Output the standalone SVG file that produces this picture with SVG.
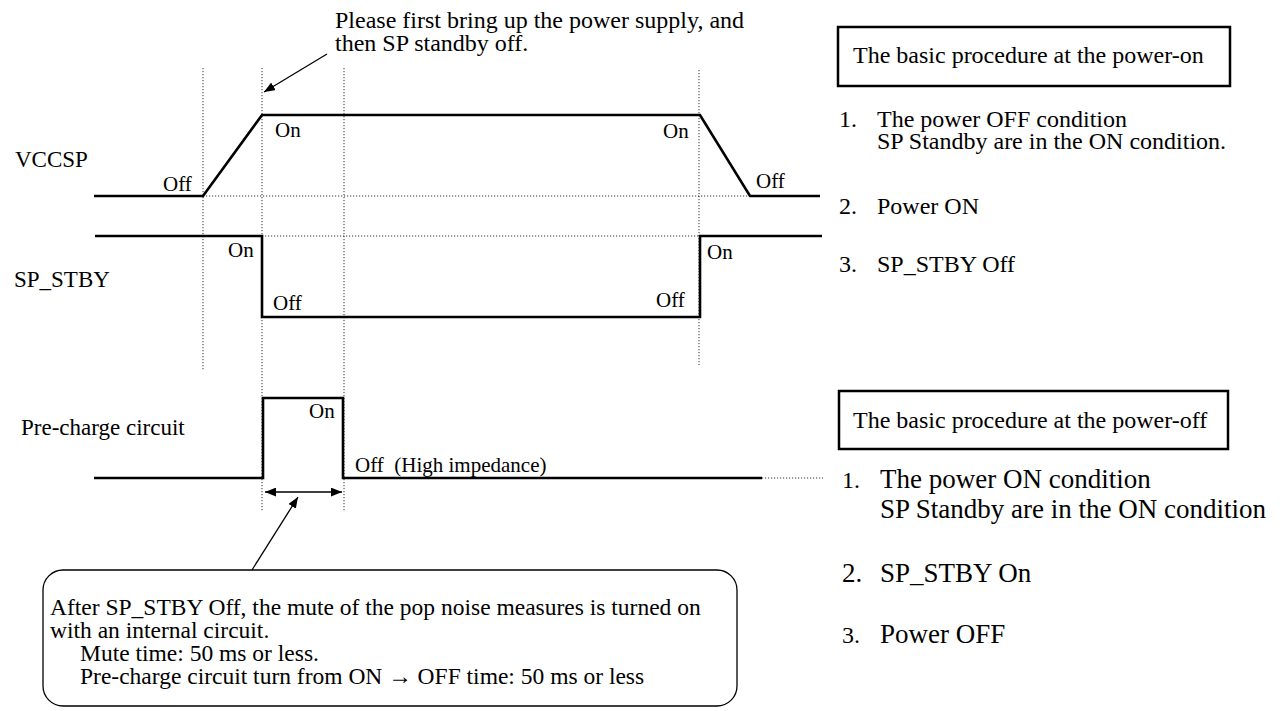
<svg xmlns="http://www.w3.org/2000/svg" width="1282" height="711" viewBox="0 0 1282 711">
<style>
text{font-family:"Liberation Serif","Times New Roman",serif;fill:#000}
.lab{font-size:23px}
.sm{font-size:21px}
.t24{font-size:24px}
.t27{font-size:27px}
.co{font-size:23.5px}
.sig{fill:none;stroke:#000;stroke-width:2.6;stroke-linejoin:miter}
.dot{fill:none;stroke:#333;stroke-width:1;stroke-dasharray:1.2 1.8}
.ln{fill:none;stroke:#000;stroke-width:1.3}
.box{fill:#fff;stroke:#000;stroke-width:2.5}
</style>
<defs>
<marker id="ah" viewBox="0 0 10 8" refX="10" refY="4" markerWidth="11" markerHeight="9" markerUnits="userSpaceOnUse" orient="auto-start-reverse">
<path d="M0,0 L10,4 L0,8 z" fill="#000"/>
</marker>
</defs>
<rect width="1282" height="711" fill="#fff"/>

<g id="grid">
<line class="dot" x1="203" y1="68" x2="203" y2="370"/>
<line class="dot" x1="262" y1="68" x2="262" y2="512"/>
<line class="dot" x1="344" y1="68" x2="344" y2="512"/>
<line class="dot" x1="699" y1="70" x2="699" y2="365"/>
<line class="dot" x1="203" y1="196" x2="750" y2="196"/>
<line class="dot" x1="262" y1="236" x2="700" y2="236"/>
<line class="dot" x1="762" y1="478" x2="823" y2="478"/>
</g>

<g id="vccsp">
<text class="lab" x="15" y="167">VCCSP</text>
<polyline class="sig" points="94,196 203,196 262,115 700,115 750,196 820,196"/>
<text class="sm" x="163" y="191">Off</text>
<text class="sm" x="275" y="137">On</text>
<text class="sm" x="663" y="138">On</text>
<text class="sm" x="756" y="188">Off</text>
</g>

<g id="sp_stby">
<text class="lab" x="14" y="287">SP_STBY</text>
<polyline class="sig" points="95,236 262,236 262,317 700,317 700,236 822,236"/>
<text class="sm" x="228" y="257">On</text>
<text class="sm" x="273" y="310">Off</text>
<text class="sm" x="656" y="307">Off</text>
<text class="sm" x="707" y="259">On</text>
</g>

<g id="precharge">
<text class="lab" x="21" y="435">Pre-charge circuit</text>
<polyline class="sig" points="94,478 263,478 263,398 343,398 343,478 762,478"/>
<text class="sm" x="309" y="418">On</text>
<text class="sm" x="355" y="472" xml:space="preserve">Off  (High impedance)</text>
</g>

<g id="note-top">
<text class="t24" x="335" y="28">Please first bring up the power supply, and</text>
<text class="t24" x="335" y="51">then SP standby off.</text>
</g>

<g id="power-on">
<rect class="box" x="838" y="27" width="392" height="59"/>
<text class="t24" x="853" y="63">The basic procedure at the power-on</text>
<text class="t24" x="839" y="127">1.</text>
<text class="t24" x="877" y="127">The power OFF condition</text>
<text class="t24" x="877" y="149">SP Standby are in the ON condition.</text>
<text class="t24" x="839" y="214">2.</text>
<text class="t24" x="877" y="214">Power ON</text>
<text class="t24" x="839" y="272">3.</text>
<text class="t24" x="877" y="272">SP_STBY Off</text>
</g>

<g id="power-off">
<rect class="box" x="839" y="391" width="389" height="58"/>
<text class="t24" x="853" y="428">The basic procedure at the power-off</text>
<text class="t24" x="842" y="488">1.</text>
<text class="t27" x="880" y="488">The power ON condition</text>
<text class="t27" x="880" y="518">SP Standby are in the ON condition</text>
<text class="t27" x="842" y="582">2.</text>
<text class="t27" x="880" y="582">SP_STBY On</text>
<text class="t24" x="842" y="643">3.</text>
<text class="t27" x="880" y="643">Power OFF</text>
</g>

<g id="callout">
<rect x="43" y="570" width="694" height="136" rx="20" ry="20" fill="#fff" stroke="#000" stroke-width="1.3"/>
<text class="co" x="50" y="615">After SP_STBY Off, the mute of the pop noise measures is turned on</text>
<text class="co" x="50" y="638">with an internal circuit.</text>
<text class="co" x="80" y="661">Mute time: 50 ms or less.</text>
<text class="co" x="80" y="684">Pre-charge circuit turn from ON → OFF time: 50 ms or less</text>
</g>

<g id="connectors">
<line class="ln" x1="327" y1="54" x2="264" y2="92" marker-end="url(#ah)"/>
<line class="ln" x1="265" y1="492" x2="342" y2="492" marker-start="url(#ah)" marker-end="url(#ah)"/>
<line class="ln" x1="252" y1="570" x2="298" y2="497" marker-end="url(#ah)"/>
</g>
</svg>
